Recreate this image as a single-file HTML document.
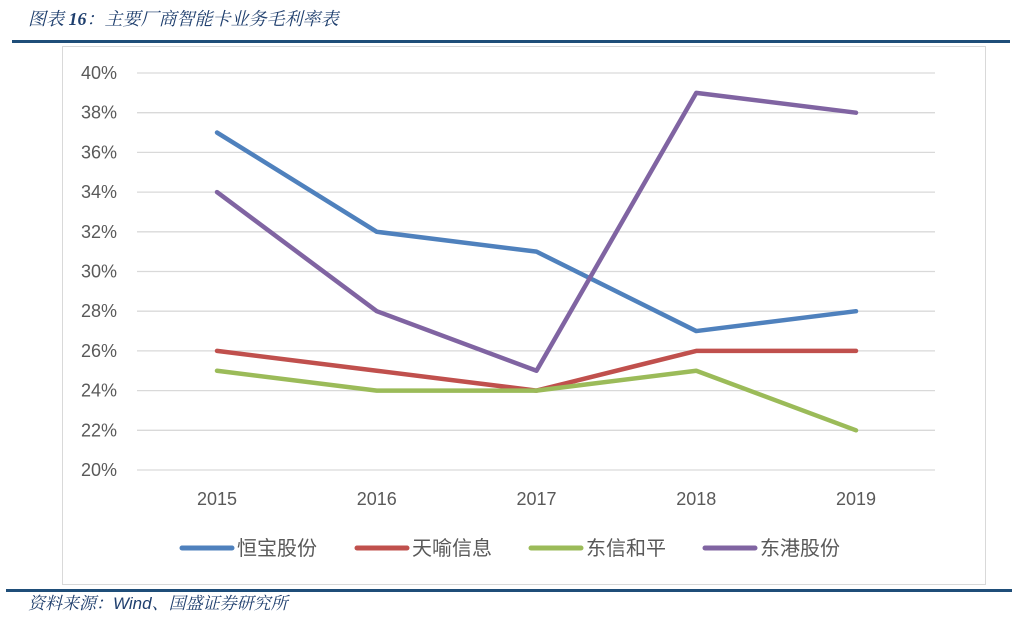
<!DOCTYPE html>
<html><head><meta charset="utf-8"><style>
body{margin:0;background:#fff;width:1018px;height:621px;overflow:hidden;font-family:"Liberation Sans","Noto Sans CJK SC",sans-serif}
</style></head><body>
<svg width="1018" height="621" xmlns="http://www.w3.org/2000/svg">
<text x="28" y="25" font-size="18" font-style="italic" fill="#1f3f6e" font-family="'Liberation Serif','Noto Serif CJK SC',serif">图表 <tspan font-weight="bold">16</tspan>：主要厂商智能卡业务毛利率表</text>
<rect x="12" y="40" width="998" height="3" fill="#1f4e79"/>
<rect x="62.5" y="46.5" width="923" height="538" fill="none" stroke="#d9d9d9"/>
<g id="grid"></g>
<g id="yt"></g>
<g id="xt"></g>
<g id="series"></g>
<g id="legend"></g>
<rect x="6" y="589" width="1006" height="3" fill="#1f4e79"/>
<text x="28" y="609" font-size="17" font-style="italic" fill="#1f3f6e" font-family="'Liberation Sans','Noto Serif CJK SC',sans-serif">资料来源：Wind、国盛证券研究所</text>
</svg>
<script>
const categories=["2015","2016","2017","2018","2019"];
const yTicks=[20,22,24,26,28,30,32,34,36,38,40];
const seriesNames=["恒宝股份","天喻信息","东信和平","东港股份"];
const seriesColors=["#4f81bd","#c0504d","#9bbb59","#8064a2"];
const hengbao=[37,32,31,27,28];
const tianyu=[26,25,24,26,26];
const dongxin=[25,24,24,25,22];
const donggang=[34,28,25,39,38];
const seriesValues=[hengbao,tianyu,dongxin,donggang];
const NS="http://www.w3.org/2000/svg";
const x=i=>217+i*159.75;
const y=v=>470-(v-20)*19.85;
function mk(t,a,p){const e=document.createElementNS(NS,t);for(const k in a)e.setAttribute(k,a[k]);p.appendChild(e);return e;}
const grid=document.getElementById('grid'),yt=document.getElementById('yt'),xt=document.getElementById('xt'),ser=document.getElementById('series'),leg=document.getElementById('legend');
yTicks.forEach(v=>{
 const l=mk('line',{x1:137,x2:935,y1:y(v),y2:y(v),stroke:'#d9d9d9','stroke-width':1.3},grid);
 
 
 const t=mk('text',{x:117,y:y(v)+6,'text-anchor':'end','font-size':18,fill:'#595959'},yt);
 t.textContent=v+'%';
 
 
});
categories.forEach((c,i)=>{
 const t=mk('text',{x:x(i),y:505,'text-anchor':'middle','font-size':18,fill:'#595959'},xt);
 t.textContent=c;
 
 
});
seriesValues.forEach((vals,s)=>{
 const p=mk('polyline',{points:vals.map((v,i)=>x(i)+','+y(v)).join(' '),fill:'none',stroke:seriesColors[s],'stroke-width':4.5,'stroke-linejoin':'round','stroke-linecap':'round'},ser);
 
 
});
const lx=[182,357,531,705];
seriesNames.forEach((n,s)=>{
 const l=mk('line',{x1:lx[s],x2:lx[s]+50,y1:548,y2:548,stroke:seriesColors[s],'stroke-width':5,'stroke-linecap':'round'},leg);
 
 
 const t=mk('text',{x:lx[s]+55,y:555,'font-size':20,fill:'#595959'},leg);
 t.textContent=n;
 
 
});
</script>
</body></html>
